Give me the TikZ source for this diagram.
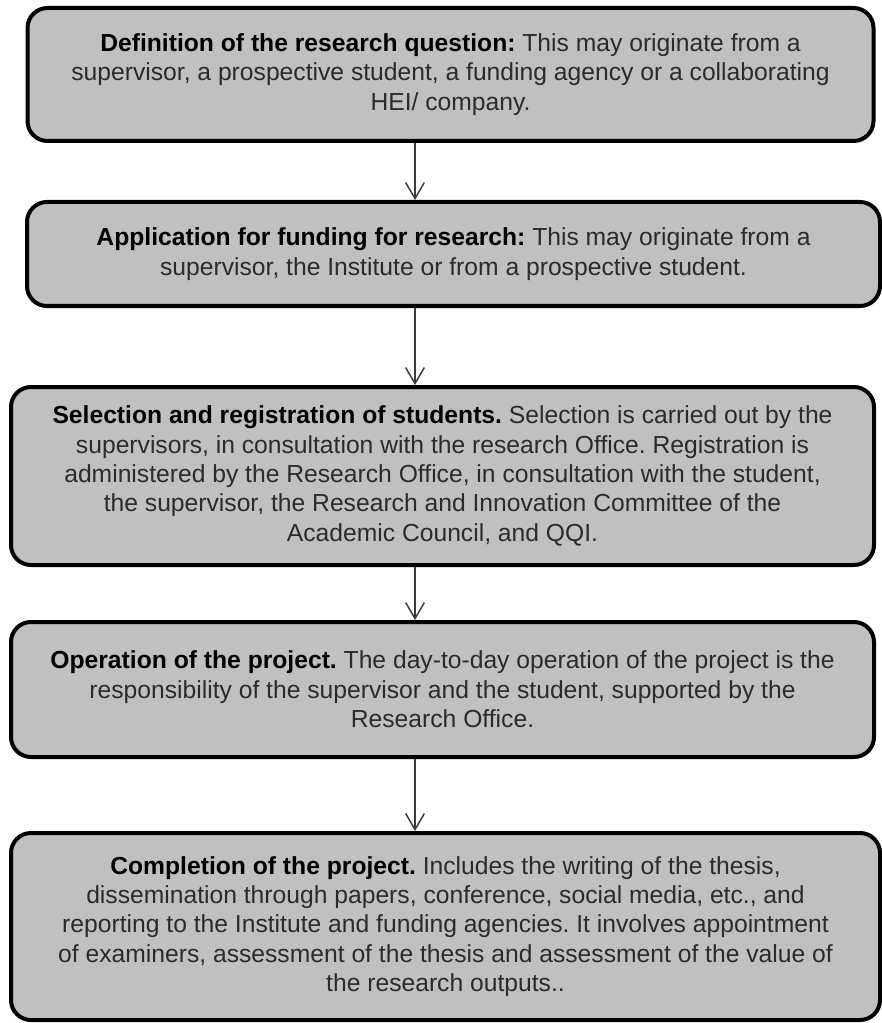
\documentclass[tikz,border=0pt]{standalone}
\usepackage{fontspec}
\setmainfont{Liberation Sans}
\usepackage{xcolor}
\usetikzlibrary{positioning, arrows.meta}
\definecolor{cBoxFill}{HTML}{C0C0C0}
\definecolor{cBoxLine}{HTML}{000000}
\definecolor{cText}   {HTML}{2B2B2B}
\definecolor{cArrow}  {HTML}{3A3A3A}
\newcommand{\stagehead}[1]{\textbf{\textcolor{black}{#1}}}

\begin{document}
\frenchspacing
\begin{tikzpicture}[x=0.75pt, y=-0.75pt,
    stagebox/.style 2 args={draw=cBoxLine, fill=cBoxFill, line width=3pt,
      rounded corners=15pt, minimum width=#1*0.75pt, minimum height=#2*0.75pt,
      align=center, inner sep=0pt, text=cText,
      font=\fontsize{18.5}{22}\selectfont},
    flow/.style={-{Straight Barb[length=12pt, width=14pt]}, line width=1.1pt, draw=cArrow}]
  \useasboundingbox (0,0) rectangle (881,1023);
  % spine that carries the arrows
  \coordinate (spine) at (415,0);
  % stages
  \node[stagebox={846}{133}] (def) at (450.5,74.5)
    {\stagehead{Definition of the research question:} This may originate from a\\
     supervisor, a prospective student, a funding agency or a collaborating\\
     HEI/ company.};
  \node[stagebox={853}{104}] (fund) at (453.5,254)
    {\stagehead{Application for funding for research:} This may originate from a\\
     supervisor, the Institute or from a prospective student.};
  \node[stagebox={863}{178}] (sel) at (442.5,476)
    {\stagehead{Selection and registration of students.} Selection is carried out by the\\
     supervisors, in consultation with the research Office. Registration is\\
     administered by the Research Office, in consultation with the student,\\
     the supervisor, the Research and Innovation Committee of the\\
     Academic Council, and QQI.};
  \node[stagebox={863}{135}] (oper) at (442.5,689.5)
    {\stagehead{Operation of the project.} The day-to-day operation of the project is the\\
     responsibility of the supervisor and the student, supported by the\\
     Research Office.};
  \node[stagebox={869}{187}] (compl) at (445.5,926.5)
    {\stagehead{Completion of the project.} Includes the writing of the thesis,\\
     dissemination through papers, conference, social media, etc., and\\
     reporting to the Institute and funding agencies. It involves appointment\\
     of examiners, assessment of the thesis and assessment of the value of\\
     the research outputs..};
  % connectors
  \foreach \a/\b in {def/fund, fund/sel, sel/oper, oper/compl}
    \draw[flow] (\a.south -| spine) -- (\b.north -| spine);
\end{tikzpicture}
\end{document}
